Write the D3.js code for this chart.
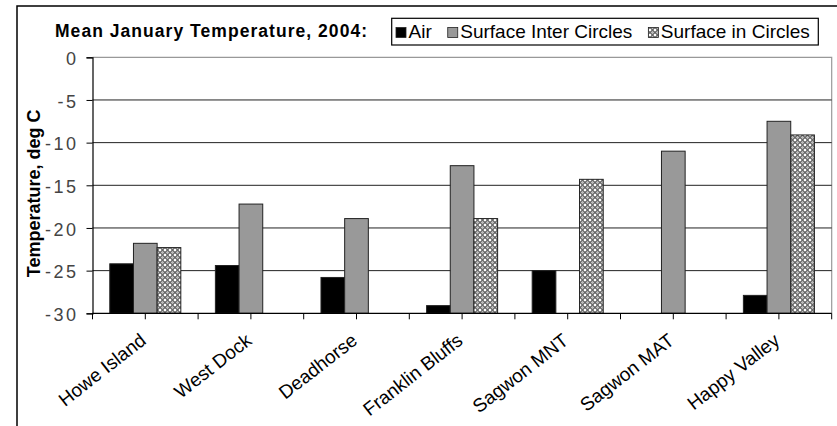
<!DOCTYPE html>
<meta charset="utf-8">
<script src="https://d3js.org/d3.v7.min.js"></script>
<style>
  body { margin: 0; background: #fff; }
  text { font-family: "Liberation Sans", Arial, sans-serif; }
</style>
<div id="chart"></div>
<script>
  // data (deg C); null = no bar
  const sites = ["Howe Island", "West Dock", "Deadhorse", "Franklin Bluffs", "Sagwon MNT", "Sagwon MAT", "Happy Valley"];
  const seriesNames = ["Air", "Surface Inter Circles", "Surface in Circles"];
  const airTemp = [-24.2, -24.4, -25.8, -29.1, -25.0, null, -27.9];
  const interTemp = [-21.8, -17.2, -18.9, -12.7, null, -11.0, -7.5];
  const inCircleTemp = [-22.3, null, null, -18.9, -14.3, null, -9.1];
  const yTicks = [0, -5, -10, -15, -20, -25, -30];

  const W = 837, H = 426;
  const plot = {left: 92.5, right: 831.7, top: 57.3, bottom: 313.3};

  const svg = d3.select("#chart").append("svg")
    .attr("width", W).attr("height", H);

  // dotted fill for "Surface in Circles"
  const pat = svg.append("defs").append("pattern")
    .attr("id", "dots").attr("patternUnits", "userSpaceOnUse")
    .attr("width", 5).attr("height", 5);
  pat.append("rect").attr("width", 5).attr("height", 5).attr("fill", "#fff");
  pat.append("circle").attr("cx", 2.5).attr("cy", 2.5).attr("r", 2)
    .attr("fill", "#bbb").attr("stroke", "#333").attr("stroke-width", 0.9);

  const fills = ["#000", "#999", "url(#dots)"];

  // outer chart frame (cropped on right and bottom)
  svg.append("rect")
    .attr("x", 17).attr("y", 6).attr("width", 840).attr("height", 440)
    .attr("fill", "none").attr("stroke", "#000").attr("stroke-width", 1.5);

  const x = d3.scaleBand().domain(sites).range([plot.left, plot.right]);
  const barW = x.bandwidth() / 4.46;
  const xSub = d3.scaleBand().domain(seriesNames).range([-1.5 * barW, 1.5 * barW]);
  const y = d3.scaleLinear().domain([-30, 0]).range([plot.bottom, plot.top]);

  // plot area border (top/right light grey)
  svg.append("path")
    .attr("d", `M${plot.left},${y(0)}H${plot.right}V${plot.bottom}`)
    .attr("fill", "none").attr("stroke", "#999").attr("stroke-width", 1.2);

  // gridlines
  svg.append("g").selectAll("line")
    .data(yTicks.filter(d => d !== 0 && d !== -30))
    .join("line")
    .attr("x1", plot.left).attr("x2", plot.right)
    .attr("y1", d => y(d)).attr("y2", d => y(d))
    .attr("stroke", "#222").attr("stroke-width", 1);

  // bars
  const rows = sites.map((s, i) => [airTemp[i], interTemp[i], inCircleTemp[i]]
    .map((v, j) => ({site: s, series: seriesNames[j], value: v, fill: fills[j]})));
  svg.append("g").selectAll("rect")
    .data(rows.flat().filter(d => d.value !== null))
    .join("rect")
    .attr("x", d => x(d.site) + x.bandwidth() / 2 + xSub(d.series))
    .attr("width", xSub.bandwidth())
    .attr("y", d => y(d.value))
    .attr("height", d => y(-30) - y(d.value))
    .attr("fill", d => d.fill)
    .attr("stroke", "#222").attr("stroke-width", 1);

  // y axis
  const yAxis = svg.append("g")
    .attr("transform", `translate(${plot.left},0)`)
    .call(d3.axisLeft(y).tickValues(yTicks).tickSize(6).tickPadding(8).tickFormat(d3.format("d")));
  yAxis.select(".domain").attr("stroke", "#000").attr("stroke-width", 1.2);
  yAxis.selectAll(".tick line").attr("stroke", "#000");
  yAxis.selectAll(".tick text")
    .attr("font-size", 18).attr("fill", "#444")
    .attr("letter-spacing", 2.5).attr("dy", "0.4em")
    .text(d => d === 0 ? "0" : "-" + Math.abs(d));

  // x axis: ticks at every half category
  const halfTicks = d3.range(0, sites.length * 2 + 1).map(k => plot.left + k * x.bandwidth() / 2);
  svg.append("line")
    .attr("x1", plot.left).attr("x2", plot.right)
    .attr("y1", plot.bottom).attr("y2", plot.bottom)
    .attr("stroke", "#000").attr("stroke-width", 1.2);
  svg.append("g").selectAll("line")
    .data(halfTicks)
    .join("line")
    .attr("x1", d => d).attr("x2", d => d)
    .attr("y1", plot.bottom).attr("y2", plot.bottom + 6)
    .attr("stroke", "#000");

  svg.append("g").selectAll("text")
    .data(sites)
    .join("text")
    .attr("transform", d => `translate(${x(d) + x.bandwidth() / 2 + 2},${plot.bottom + 29.5}) rotate(-38)`)
    .attr("text-anchor", "end")
    .attr("font-size", 19)
    .attr("fill", "#000")
    .text(d => d);

  // y label
  svg.append("text")
    .attr("transform", `translate(40,${(plot.top + plot.bottom) / 2 + 8}) rotate(-90)`)
    .attr("text-anchor", "middle")
    .attr("font-size", 18).attr("font-weight", "bold")
    .text("Temperature, deg C");

  // title
  svg.append("text")
    .attr("x", 55).attr("y", 36.5)
    .attr("font-size", 17.5).attr("font-weight", "bold")
    .attr("textLength", 312).attr("lengthAdjust", "spacing")
    .text("Mean January Temperature, 2004:");

  // legend
  const legend = svg.append("g");
  legend.append("rect")
    .attr("x", 391.7).attr("y", 18.3).attr("width", 426.6).attr("height", 26.7)
    .attr("fill", "#fff").attr("stroke", "#000").attr("stroke-width", 1.2);
  let lx = 396;
  seriesNames.forEach((name, j) => {
    legend.append("rect")
      .attr("x", lx).attr("y", 27.5).attr("width", 10).attr("height", 10)
      .attr("fill", fills[j]).attr("stroke", "#222").attr("stroke-width", 0.8);
    const t = legend.append("text")
      .attr("x", lx + 12.5).attr("y", 38.3)
      .attr("font-size", 19)
      .text(name);
    lx += 12.5 + t.node().getComputedTextLength() + 16;
  });
</script>
